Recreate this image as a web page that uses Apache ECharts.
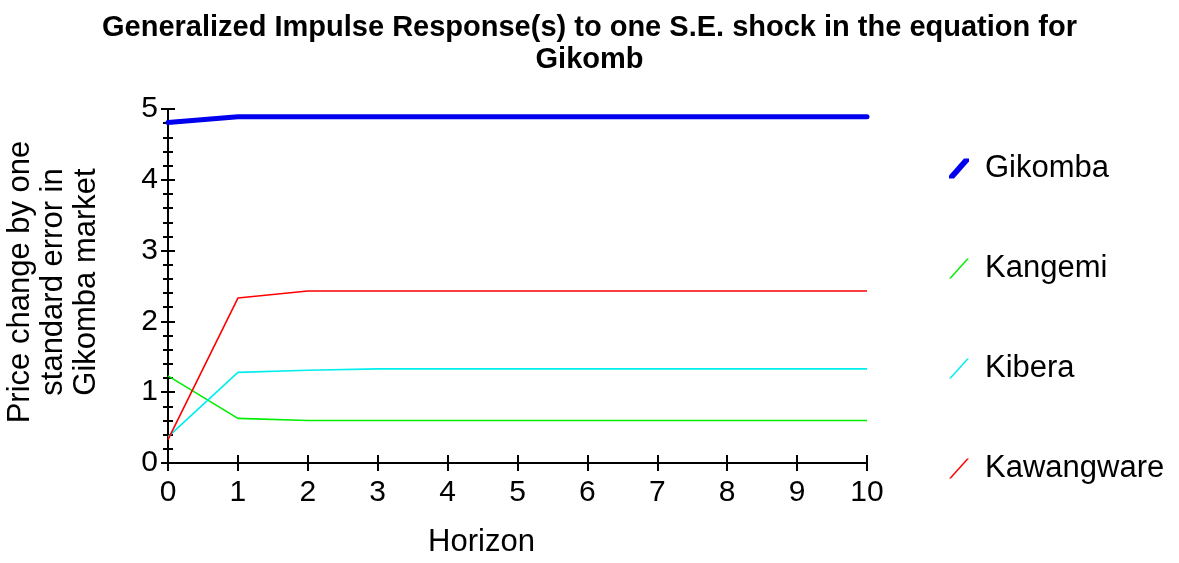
<!DOCTYPE html>
<html>
<head>
<meta charset="utf-8">
<script src="https://cdn.jsdelivr.net/npm/echarts@6/dist/echarts.min.js"></script>
<style>
html,body{margin:0;padding:0;background:#fff;}
#chart{width:1179px;height:563px;}
</style>
</head>
<body>
<div id="chart"></div>
<script>
var horizons = ['0','1','2','3','4','5','6','7','8','9','10'];
var gikomba    = [4.81, 4.89, 4.89, 4.89, 4.89, 4.89, 4.89, 4.89, 4.89, 4.89, 4.89];
var kangemi    = [1.23, 0.63, 0.60, 0.60, 0.60, 0.60, 0.60, 0.60, 0.60, 0.60, 0.60];
var kibera     = [0.37, 1.28, 1.31, 1.33, 1.33, 1.33, 1.33, 1.33, 1.33, 1.33, 1.33];
var kawangware = [0.33, 2.33, 2.43, 2.43, 2.43, 2.43, 2.43, 2.43, 2.43, 2.43, 2.43];
var yTicks = [0, 1, 2, 3, 4, 5];

var FONT = 'Liberation Sans, Arial, sans-serif';
var chart = echarts.init(document.getElementById('chart'));
var thinIcon = 'path://M0,20L18,0L20,0L2,20Z';
var thickIcon = 'path://M0,17L15,0L20,0L20,3L5,20L0,20Z';

var baseX = {
  type: 'category', data: horizons, boundaryGap: false, position: 'bottom',
  axisLine: {show: true, lineStyle: {color: '#000', width: 2}},
  splitLine: {show: false}
};
var baseY = {
  type: 'value', min: yTicks[0], max: yTicks[yTicks.length-1], interval: 1, position: 'left',
  axisLine: {show: true, lineStyle: {color: '#000', width: 2}},
  splitLine: {show: false}
};

chart.setOption({
  animation: false,
  backgroundColor: '#fff',
  title: {
    text: 'Generalized Impulse Response(s) to one S.E. shock in the equation for\nGikomb',
    left: 'center', top: 7,
    textStyle: {fontFamily: FONT, fontWeight: 'bold', fontSize: 29, lineHeight: 32, color: '#000'}
  },
  grid: {left: 168, right: 312, top: 109, bottom: 100, containLabel: false, outerBoundsMode: 'none'},
  legend: {
    orient: 'vertical', left: 944, top: 148,
    itemWidth: 20, itemHeight: 22, itemGap: 69,
    textStyle: {fontFamily: FONT, fontSize: 31, color: '#000', padding: [0,0,0,11]},
    data: [
      {name: 'Gikomba', icon: thickIcon},
      {name: 'Kangemi', icon: thinIcon},
      {name: 'Kibera', icon: thinIcon},
      {name: 'Kawangware', icon: thinIcon}
    ]
  },
  xAxis: [
    Object.assign({}, baseX, {
      name: 'Horizon', nameLocation: 'middle', nameGap: 64,
      nameTextStyle: {fontFamily: FONT, fontSize: 31, color: '#000', padding: [0, 72, 0, 0]},
      axisTick: {show: true, inside: false, length: 8, lineStyle: {color: '#000', width: 2}},
      axisLabel: {show: true, margin: 15, fontFamily: FONT, fontSize: 30, color: '#000'}
    }),
    Object.assign({}, baseX, {
      axisTick: {show: true, inside: true, length: 8, lineStyle: {color: '#000', width: 2}},
      axisLabel: {show: false}
    })
  ],
  yAxis: [
    Object.assign({}, baseY, {
      name: 'Price change by one\nstandard error in\nGikomba market',
      nameLocation: 'middle', nameGap: 65,
      nameTextStyle: {fontFamily: FONT, fontSize: 31, lineHeight: 33, color: '#000', padding: [0, 0, 0, 8]},
      axisTick: {show: true, inside: false, length: 7, lineStyle: {color: '#000', width: 2}},
      minorTick: {show: true, splitNumber: 5, length: 5, lineStyle: {color: '#000', width: 2}},
      axisLabel: {show: true, margin: 10, fontFamily: FONT, fontSize: 30, color: '#000'}
    }),
    Object.assign({}, baseY, {
      axisTick: {show: true, inside: true, length: 7, lineStyle: {color: '#000', width: 2}},
      minorTick: {show: true, splitNumber: 5, length: 5, lineStyle: {color: '#000', width: 2}},
      axisLabel: {show: false}
    })
  ],
  series: [
    {name: 'Gikomba', type: 'line', data: gikomba, color: '#0000ee', showSymbol: false, symbol: 'none',
     lineStyle: {width: 5, color: '#0000ee', cap: 'round'}, z: 4},
    {name: 'Kangemi', type: 'line', data: kangemi, color: '#00ee00', showSymbol: false, symbol: 'none',
     lineStyle: {width: 1.6, color: '#00ee00'}},
    {name: 'Kibera', type: 'line', data: kibera, color: '#00eeee', showSymbol: false, symbol: 'none',
     lineStyle: {width: 1.6, color: '#00eeee'}},
    {name: 'Kawangware', type: 'line', data: kawangware, color: '#ff0000', showSymbol: false, symbol: 'none',
     lineStyle: {width: 1.6, color: '#ff0000'}}
  ]
});
</script>
</body>
</html>
